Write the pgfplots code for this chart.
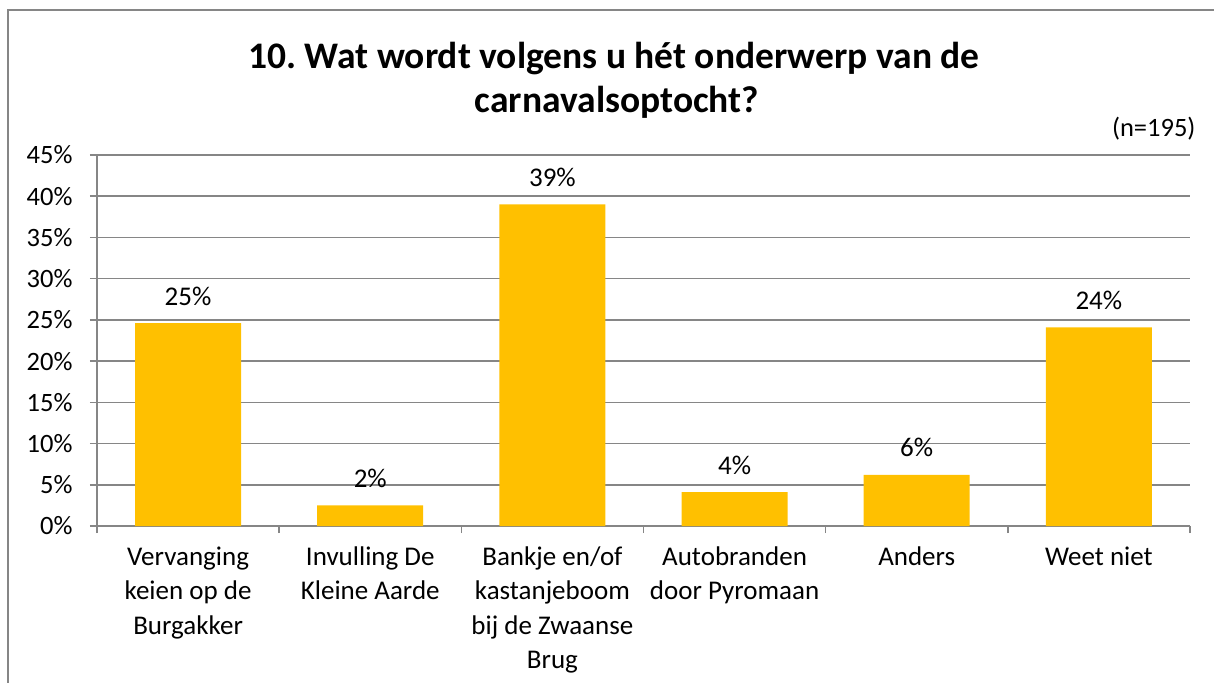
\documentclass[border=0pt]{standalone}
\usepackage{fontspec}
\setmainfont{Carlito}
\usepackage{pgfplots}
\pgfplotsset{compat=1.18}
\definecolor{baryellow}{HTML}{FFC000}
\definecolor{gridgray}{HTML}{868686}
\frenchspacing
\begin{document}
\begin{tikzpicture}[x=1pt,y=1pt]
\path[use as bounding box] (0,0) rectangle (1214,682);
\draw[gridgray, line width=2pt] (8,-5) -- (8,672) -- (1220,672);
\node[anchor=base, font=\bfseries\fontsize{37.5}{43}\selectfont] at (614,613) {10. Wat wordt volgens u hét onderwerp van de};
\node[anchor=base, font=\bfseries\fontsize{37.5}{43}\selectfont] at (617,569) {carnavalsoptocht?};
\node[anchor=base east, font=\fontsize{26.5}{33}\selectfont] at (1199,545) {(n=195)};
\begin{axis}[
  at={(97pt,156pt)}, anchor=south west,
  scale only axis, width=1093pt, height=371pt,
  xmin=-0.5, xmax=5.5, ymin=0, ymax=45,
  axis x line=bottom, axis y line=left,
  axis line style={-, gridgray, line width=1.5pt},
  ytick={0,5,10,15,20,25,30,35,40,45},
  yticklabels={0\%,5\%,10\%,15\%,20\%,25\%,30\%,35\%,40\%,45\%},
  ymajorgrids, grid style={gridgray, line width=1.5pt},
  tick align=outside, major tick length=7pt,
  tick style={gridgray, line width=1.5pt},
  xtick={-0.5,0.5,1.5,2.5,3.5,4.5,5.5},
  x tick label as interval,
  xticklabels={{Vervanging\\keien op de\\Burgakker},{Invulling De\\Kleine Aarde},{Bankje en/of\\kastanjeboom\\bij de Zwaanse\\Brug},{Autobranden\\door Pyromaan},{Anders},{Weet niet}},
  xticklabel style={align=center, anchor=north, yshift=-10pt, font=\fontsize{27}{34.5}\selectfont, text depth=0pt},
  yticklabel style={font=\fontsize{26.5}{33}\selectfont, xshift=-14pt},
  ybar, bar width=106pt,
  point meta=explicit symbolic,
  nodes near coords,
  nodes near coords style={font=\fontsize{27}{33}\selectfont, anchor=base, yshift=18pt, text=black},
  clip=false,
]
\addplot[fill=baryellow, draw=none] coordinates {
  (0,24.6) [25\%]
  (1,2.5) [2\%]
  (2,39.0) [39\%]
  (3,4.1) [4\%]
  (4,6.2) [6\%]
  (5,24.1) [24\%]
};
\end{axis}
\end{tikzpicture}
\end{document}
